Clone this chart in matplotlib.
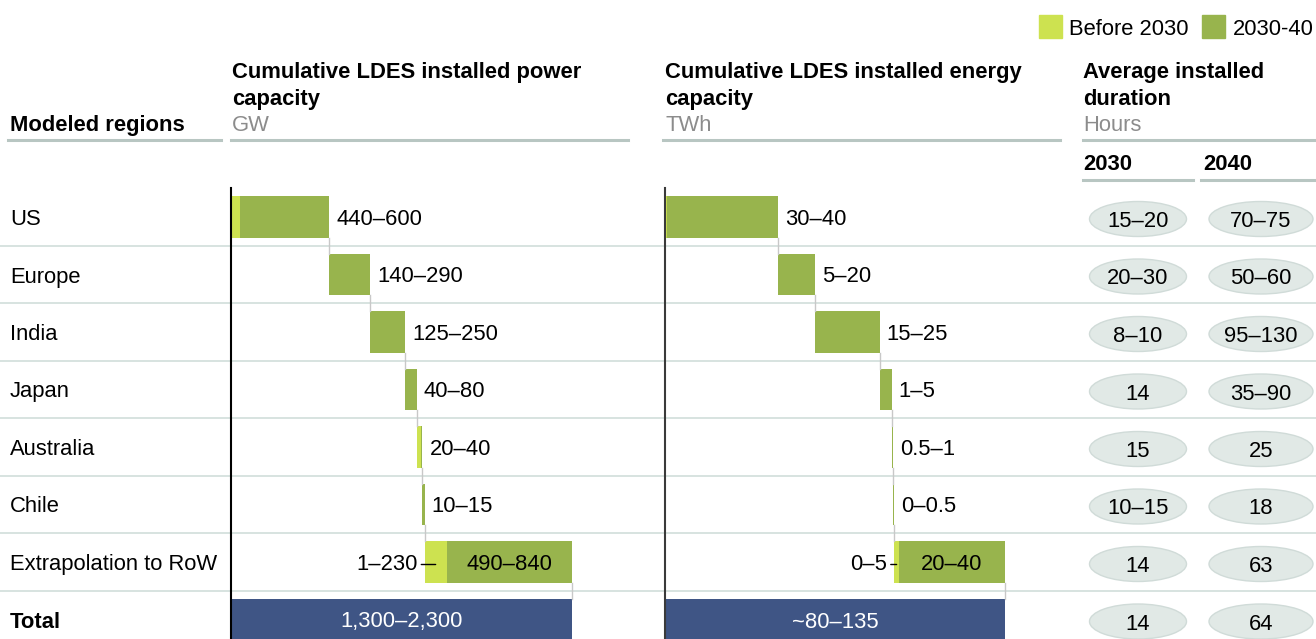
import matplotlib.pyplot as plt
from matplotlib.patches import Ellipse, Rectangle
from matplotlib.transforms import offset_copy

plt.rcParams['font.family'] = ['Liberation Sans', 'DejaVu Sans']
plt.rcParams['font.size'] = 15.8

regions = ['US', 'Europe', 'India', 'Japan', 'Australia', 'Chile',
           'Extrapolation to RoW']

# Power capacity, GW (bar lengths, split at 2030)
power_before = [45, 0, 0, 0, 22, 0, 115]
power_after = [475, 215, 187.5, 60, 8, 12.5, 665]
power_labels = ['440–600', '140–290', '125–250', '40–80', '20–40', '10–15', '490–840']
power_before_label = '1–230'
power_total_label = '1,300–2,300'

# Energy capacity, TWh
energy_before = [0.7, 0, 0, 0, 0, 0, 1.5]
energy_after = [35.2, 11.7, 20.3, 3.8, 0.55, 0.3, 33.5]
energy_labels = ['30–40', '5–20', '15–25', '1–5', '0.5–1', '0–0.5', '20–40']
energy_before_label = '0–5'
energy_total_label = '~80–135'

# Average installed duration, hours
duration_2030 = ['15–20', '20–30', '8–10', '14', '15', '10–15', '14', '14']
duration_2040 = ['70–75', '50–60', '95–130', '35–90', '25', '18', '63', '64']

LIGHT = '#cde250'
DARK = '#98b44d'
NAVY = '#3f5585'
SEP = '#d4e0dd'
RULE = '#b8c6c2'
GREY = '#8c8c8c'

W, H = 1316, 639
DY = 2.5  # text sits a little lower than matplotlib's 'center'
fig = plt.figure(figsize=(W / 100, H / 100), dpi=100)

# background axes in pixel units for the table, headers and rules
bg = fig.add_axes([0, 0, 1, 1])
bg.set_xlim(0, W)
bg.set_ylim(H, 0)
bg.axis('off')


def label(x, y, s, **kw):
    bg.text(x, y + DY, s, va='center', **kw)


row0, step = 217, 57.5
row_y = [row0 + step * i for i in range(len(regions) + 1)]

for y in row_y[:-1]:
    bg.plot([0, W], [y + step / 2, y + step / 2], color=SEP, lw=1.3, zorder=0)

for name, y in zip(regions + ['Total'], row_y):
    label(10, y, name, weight='bold' if name == 'Total' else 'normal')

# headers
label(10, 123, 'Modeled regions', weight='bold')
label(232, 70, 'Cumulative LDES installed power', weight='bold')
label(232, 97, 'capacity', weight='bold')
label(232, 123, 'GW', color=GREY)
label(665, 70, 'Cumulative LDES installed energy', weight='bold')
label(665, 97, 'capacity', weight='bold')
label(665, 123, 'TWh', color=GREY)
label(1083, 70, 'Average installed', weight='bold')
label(1083, 97, 'duration', weight='bold')
label(1083, 123, 'Hours', color=GREY)
label(1083, 162, '2030', weight='bold')
label(1203, 162, '2040', weight='bold')

for x0, x1 in [(8, 221), (231, 628), (663, 1060), (1083, 1316)]:
    bg.plot([x0, x1], [140, 140], color=RULE, lw=2.2)
for x0, x1 in [(1083, 1193), (1201, 1314)]:
    bg.plot([x0, x1], [180, 180], color=RULE, lw=2.2)

# legend
bg.add_patch(Rectangle((1039, 15), 23, 23, color=LIGHT))
label(1069, 27, 'Before 2030')
bg.add_patch(Rectangle((1202, 15), 23, 23, color=DARK))
label(1233, 27, '2030-40')

# duration ellipses
for y, a, b in zip(row_y, duration_2030, duration_2040):
    bg.add_patch(Ellipse((1138, y + 2), 97, 35, fc='#e1e9e6', ec='#d0dbd8', lw=1))
    bg.add_patch(Ellipse((1261, y + 2), 104, 35, fc='#e1e9e6', ec='#d0dbd8', lw=1))
    label(1138, y + 2, a, ha='center')
    label(1261, y + 2, b, ha='center')


def waterfall(x0_px, x1_px, before, after, labels, before_label, total_label,
              xmax, spine_color):
    top = 188
    ax = fig.add_axes([x0_px / W, 0, (x1_px - x0_px) / W, (H - top) / H])
    ax.set_xlim(0, xmax)
    ax.set_ylim((H - row0) / step, (top - row0) / step)
    ax.patch.set_alpha(0)
    for s in ['top', 'right', 'bottom']:
        ax.spines[s].set_visible(False)
    ax.spines['left'].set_color(spine_color)
    ax.spines['left'].set_linewidth(1.5)
    ax.set_xticks([])
    ax.set_yticks([])

    bh = 0.72
    left = 0
    n = len(before)
    for i in range(n):
        if before[i] > 0:
            ax.barh(i, before[i], left=left, height=bh, color=LIGHT, lw=0)
        ax.barh(i, after[i], left=left + before[i], height=bh, color=DARK, lw=0)
        start = left
        left += before[i] + after[i]
        ax.plot([left, left], [i + bh / 2, i + 1 - bh / 2], color='#c8c8c8', lw=1)
        if i < n - 1:
            ax.annotate(labels[i], xy=(left, i), xytext=(7, -DY),
                        textcoords='offset pixels', ha='left', va='center')
        else:
            ax.annotate(labels[i], xy=(start + before[i] + after[i] / 2, i),
                        xytext=(0, -DY), textcoords='offset pixels',
                        ha='center', va='center')
            ax.annotate(before_label, xy=(start, i), xytext=(-7, -DY),
                        textcoords='offset pixels', ha='right', va='center')
            # short leader from the label into the before-2030 segment
            ax.annotate('', xy=(start + before[i] / 2, i), xytext=(start, i),
                        xycoords=offset_copy(ax.transData, fig=fig, x=0,
                                             y=-DY, units='dots'),
                        textcoords=offset_copy(ax.transData, fig=fig, x=-3.5,
                                               y=-DY, units='dots'),
                        arrowprops=dict(arrowstyle='-', color='black', lw=1,
                                        shrinkA=0, shrinkB=0), zorder=5)
    ax.barh(n, left, height=bh, color=NAVY, lw=0)
    ax.annotate(total_label, xy=(left / 2, n), xytext=(0, -DY),
                textcoords='offset pixels', color='white',
                ha='center', va='center')
    return ax


waterfall(231, 628, power_before, power_after, power_labels,
          power_before_label, power_total_label, 2100, 'black')
waterfall(665, 1060, energy_before, energy_after, energy_labels,
          energy_before_label, energy_total_label, 125, '#3a3a3a')

fig.savefig('out.png', dpi=100)
